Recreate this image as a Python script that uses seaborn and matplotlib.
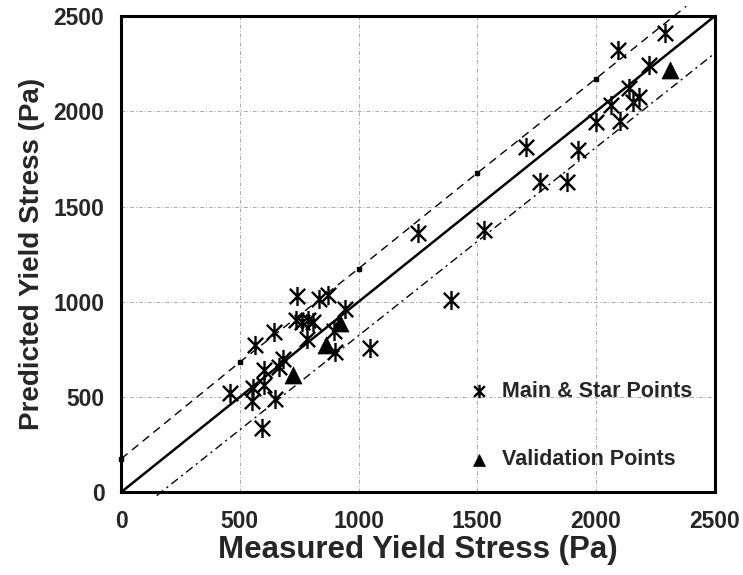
import matplotlib
matplotlib.use("Agg")
import matplotlib.pyplot as plt
import seaborn as sns
import pandas as pd
from matplotlib.path import Path

# ---- data ----
main_measured = [459, 550, 557, 564, 592, 603, 603, 644, 646, 666, 683,
                 739, 735, 760, 785, 806, 782, 834, 873, 897, 901, 943,
                 1048, 1388, 1250, 1529, 1707, 1762, 1876, 1925, 2000,
                 2100, 2065, 2137, 2157, 2179, 2223, 2093, 2290]
main_predicted = [521, 478, 548, 771, 338, 561, 640, 841, 487, 657, 701,
                  1030, 902, 895, 902, 895, 804, 1016, 1034, 846, 736, 964,
                  756, 1011, 1360, 1375, 1813, 1629, 1629, 1796, 1944,
                  1947, 2032, 2120, 2050, 2076, 2242, 2321, 2409]
val_measured = [722, 862, 922, 2311]
val_predicted = [617, 771, 890, 2216]

ideal_x = [0, 2500]
ideal_y = [0, 2500]
upper_x = [0, 500, 1000, 1500, 2000, 2380]
upper_y = [175, 683, 1174, 1676, 2172, 2552]
lower_x = [150, 2500]
lower_y = [-18, 2305]
ticks = [0, 500, 1000, 1500, 2000, 2500]

main_df = pd.DataFrame({"Measured": main_measured, "Predicted": main_predicted})
val_df = pd.DataFrame({"Measured": val_measured, "Predicted": val_predicted})

sns.set_style("white")
plt.rcParams["font.family"] = ["Liberation Sans", "DejaVu Sans"]
plt.rcParams["font.weight"] = "bold"

fig = plt.figure(figsize=(7.43, 5.75), dpi=100)
ax = fig.add_axes([0.163, 0.144, 0.799, 0.828])

# grid
for t in ticks[1:-1]:
    ax.axvline(t, color="#aaaaaa", lw=0.7, ls=(0, (4, 2, 1, 2)), zorder=0)
    ax.axhline(t, color="#aaaaaa", lw=0.7, ls=(0, (4, 2, 1, 2)), zorder=0)

# reference lines
sns.lineplot(x=ideal_x, y=ideal_y, color="black", lw=1.8, ax=ax, sort=False)
ax.plot(upper_x, upper_y, color="black", lw=1.0, ls=(0, (6, 4)),
        marker="s", ms=2.5, markevery=[0, 1, 2, 3, 4], clip_on=False)
ax.plot(lower_x, lower_y, color="black", lw=1.0, ls=(0, (6, 3, 1.5, 3)), clip_on=False)

star = Path([(0, -1), (0, 1), (-0.8, -0.8), (0.8, 0.8), (-0.8, 0.8), (0.8, -0.8)],
            [Path.MOVETO, Path.LINETO] * 3)

sns.scatterplot(data=main_df, x="Measured", y="Predicted", marker=star, s=190,
                color="black", edgecolor="black", linewidth=1.7, ax=ax,
                label="Main & Star Points", zorder=3)
sns.scatterplot(data=val_df, x="Measured", y="Predicted", marker="^", s=150,
                color="black", edgecolor="black", linewidth=0.5, ax=ax,
                label="Validation Points", zorder=3)

ax.set_xlim(0, 2500)
ax.set_ylim(0, 2500)
ax.set_xticks(ticks)
ax.set_yticks(ticks)
ax.tick_params(axis="both", labelsize=16.5, length=4, width=1, direction="out",
               color="black")
ax.tick_params(axis="x", pad=9)
ax.tick_params(axis="y", pad=8)
for lab in ax.get_xticklabels() + ax.get_yticklabels():
    lab.set_fontweight("bold")
for s in ax.spines.values():
    s.set_color("black")
    s.set_linewidth(2.2)

ax.set_xlabel("Measured Yield Stress (Pa)", fontsize=22.5, fontweight="bold", labelpad=1)
ax.set_ylabel("Predicted Yield Stress (Pa)", fontsize=20, fontweight="bold", labelpad=6)

leg = ax.legend(loc="lower left", bbox_to_anchor=(0.552, 0.005), frameon=False,
                labelspacing=2.2, handletextpad=0.55, handlelength=1.0,
                markerscale=0.7, prop={"weight": "bold", "size": 15.5})

fig.savefig("out.png", dpi=100)
